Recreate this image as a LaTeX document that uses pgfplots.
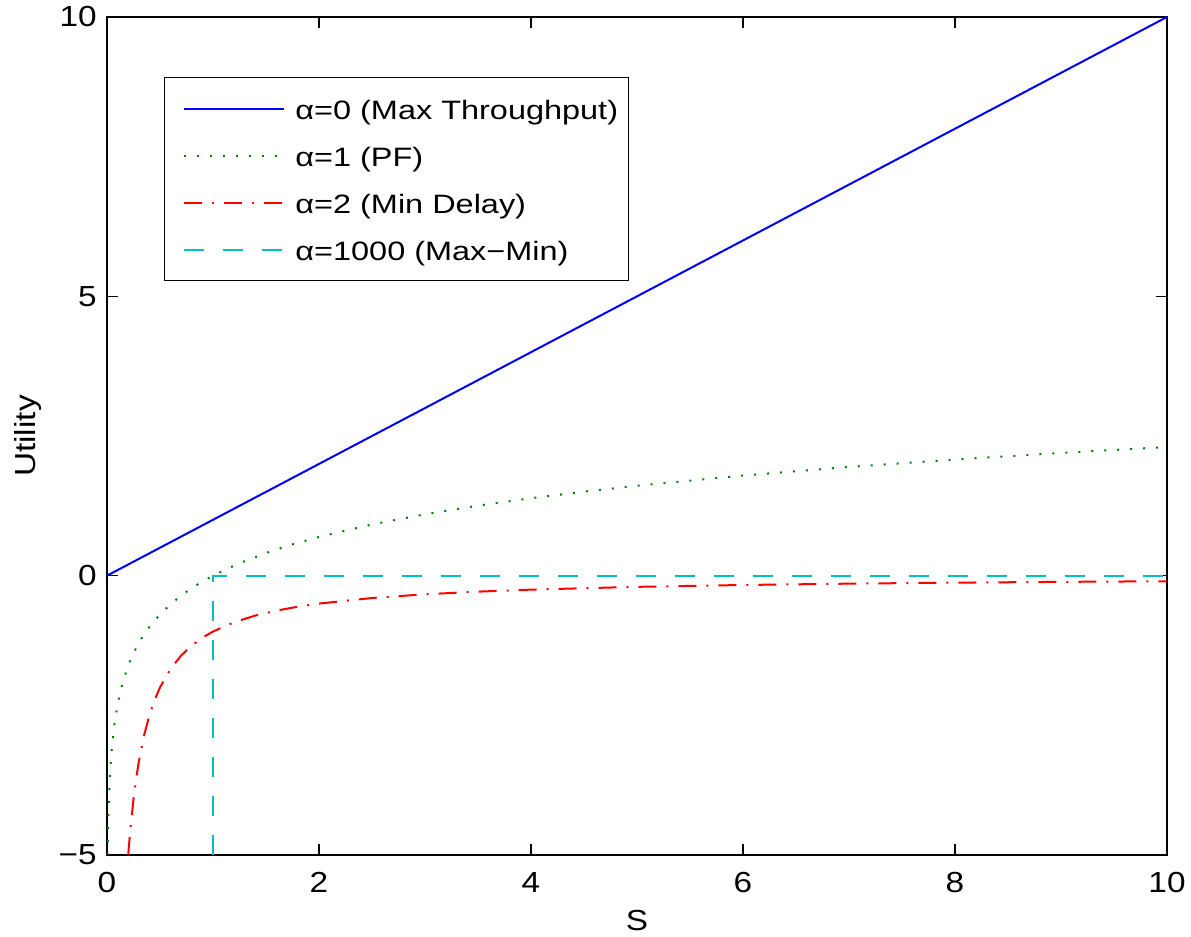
\documentclass[border=0pt]{standalone}
\usepackage{fontspec}
\setmainfont{Liberation Sans}[FakeStretch=1.15]
\newfontfamily\legfont{Liberation Sans}[FakeStretch=1.22]
\usepackage{pgfplots}
\pgfplotsset{compat=1.18}
\definecolor{mblue}{rgb}{0,0,1}
\definecolor{mgreen}{rgb}{0,0.5,0}
\definecolor{mred}{rgb}{1,0,0}
\definecolor{mcyan}{rgb}{0,0.75,0.75}
\begin{document}
\begin{tikzpicture}
\begin{axis}[name=ax, scale only axis, width=530pt, height=419pt,
  xmin=0, xmax=10, ymin=-5, ymax=10,
  xtick={0,2,4,6,8,10}, xticklabels={0,2,4,6,8,10},
  ytick={-5,0,5,10}, yticklabels={−5,0,5,10},
  tick align=inside, major tick length=5.5pt,
  every tick/.style={black, line width=0.8pt},
  axis line style={black, line width=0.8pt},
  tick label style={font=\fontsize{14.5}{17}\selectfont, inner sep=0pt},
  xticklabel style={anchor=north, yshift=-8.5pt},
  yticklabel style={anchor=east, xshift=-5pt},
  xlabel={S}, ylabel={Utility},
  every axis x label/.style={at={(axis description cs:0.5,-0.0776)}, anchor=center, font=\fontsize{14.5}{17}\selectfont},
  every axis y label/.style={at={(axis description cs:-0.0745,0.5)}, rotate=90, anchor=center, font=\fontsize{14.5}{17}\selectfont},
  legend cell align=left,
  legend style={at={(axis description cs:0.0538,0.928)}, anchor=north west,
    font=\legfont\fontsize{13.3}{16}\selectfont, inner xsep=5pt, inner ysep=9.5pt,
    row sep=11.5pt, column sep=5pt,
    nodes={inner sep=0pt, text height=11.25pt, text depth=0.75pt}},
  legend image code/.code={\path (0pt,0pt); \draw[#1] (4.5pt,0pt) -- (54.5pt,0pt);},
]
\addplot[color=mblue, line width=1pt] coordinates {(0,0) (10,10)};
\addlegendentry{α=0 (Max Throughput)}
\addplot[color=mgreen, line width=1pt, dash pattern=on 1pt off 5.5pt] coordinates {
(0.0067,-5.0) (0.01,-4.605) (0.015,-4.2) (0.02,-3.912) (0.03,-3.507) (0.04,-3.219) (0.05,-2.996) (0.07,-2.659)
(0.1,-2.303) (0.125,-2.079) (0.15,-1.897) (0.2,-1.609) (0.25,-1.386) (0.3,-1.204) (0.35,-1.050) (0.4,-0.916)
(0.5,-0.693) (0.6,-0.511) (0.7,-0.357) (0.8,-0.223) (0.9,-0.105) (1,0) (1.25,0.223) (1.5,0.405) (1.75,0.560)
(2,0.693) (2.5,0.916) (3,1.099) (3.5,1.253) (4,1.386) (4.5,1.504) (5,1.609) (6,1.792) (7,1.946) (8,2.079) (9,2.197) (10,2.303)};
\addlegendentry{α=1 (PF)}
\addplot[color=mred, line width=1pt, dash pattern=on 9pt off 5pt on 1pt off 5pt] coordinates {
(0.2,-5) (0.22,-4.545) (0.25,-4) (0.28,-3.571) (0.3,-3.333) (0.35,-2.857) (0.4,-2.5) (0.45,-2.222) (0.5,-2)
(0.6,-1.667) (0.7,-1.429) (0.8,-1.25) (0.9,-1.111) (1,-1) (1.2,-0.833) (1.4,-0.714) (1.6,-0.625) (1.8,-0.556)
(2,-0.5) (2.5,-0.4) (3,-0.333) (3.5,-0.286) (4,-0.25) (5,-0.2) (6,-0.167) (7,-0.143) (8,-0.125) (9,-0.111) (10,-0.1)};
\addlegendentry{α=2 (Min Delay)}
\addplot[color=mcyan, line width=1pt, dash pattern=on 10pt off 9.5pt] coordinates {(1,-5) (1,0) (10,0)};
\addlegendentry{α=1000 (Max−Min)}
\end{axis}
\path[use as bounding box] ([shift={(-53.5pt,-40.5pt)}]ax.south west) rectangle ([shift={(12pt,8.5pt)}]ax.north east);
\end{tikzpicture}
\end{document}
